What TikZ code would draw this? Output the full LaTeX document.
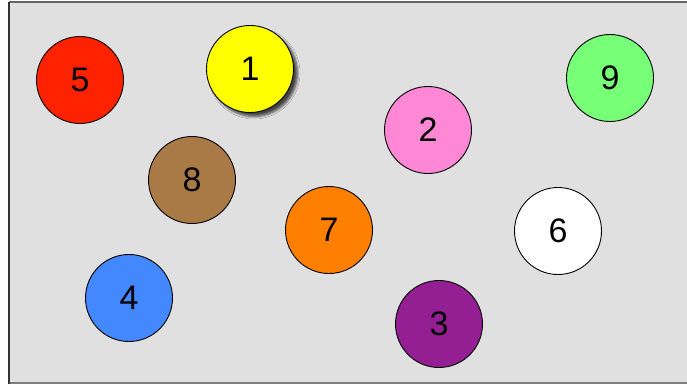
\documentclass[tikz,border=0pt]{standalone}
\usepackage{fontspec}
\setmainfont{Liberation Sans}
\usepackage{xcolor}
\usetikzlibrary{shadows.blur}

\definecolor{boxgray}{HTML}{E0E0E0}
\definecolor{ballred}{HTML}{FF2200}
\definecolor{ballyellow}{HTML}{FFFF00}
\definecolor{ballbrown}{HTML}{A97A46}
\definecolor{ballpink}{HTML}{FF88D6}
\definecolor{ballgreen}{HTML}{77FF77}
\definecolor{ballorange}{HTML}{FF8000}
\definecolor{ballpurple}{HTML}{931F93}
\definecolor{ballblue}{HTML}{4488FF}

\tikzset{
  ball/.style={circle, draw=black, line width=0.9pt, minimum size=87pt,
    inner sep=0pt, font=\fontsize{34}{34}\selectfont}
}

\begin{document}
\begin{tikzpicture}[x=1pt,y=-1pt]
				\useasboundingbox (0,0) rectangle (687,385);
				% Frame
				\fill[boxgray] (9,3) rectangle (687,382);
				\draw[gray!80!black, line width=2pt] (9,2.5) -- (687,2.5);
				\draw[gray, line width=2pt] (9,382.5) -- (687,382.5);
				\draw[black!80, line width=2pt] (9,2) -- (9,384);
				
				% Top row
				\node[ball, fill=ballred] (n5) at (80,80) {5};
				\node[ball, fill=ballyellow, blur shadow={shadow xshift=4pt, shadow yshift=-4pt, shadow blur steps=6, shadow opacity=70, shadow blur radius=2.5pt}] (n1) at (250,69) {1};
				\node[ball, fill=ballgreen] (n9) at (610,78) {9};
				
				% Middle
				\node[ball, fill=ballpink] (n2) at (428,130) {2};
				\node[ball, fill=ballbrown] (n8) at (192,180) {8};
				\node[ball, fill=ballorange] (n7) at (329,230) {7};
				\node[ball, fill=white] (n6) at (558,231) {6};
				
				% Bottom row
				\node[ball, fill=ballblue] (n4) at (129,298) {4};
				\node[ball, fill=ballpurple] (n3) at (439,324) {3};
			\end{tikzpicture}
\end{document}
